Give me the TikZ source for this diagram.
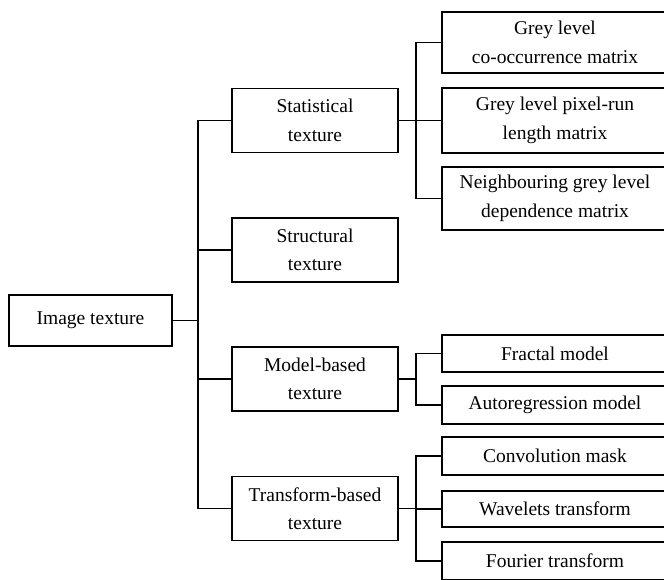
\documentclass[tikz,border=0pt]{standalone}
\usepackage{fontspec}
\setmainfont{Liberation Serif}
\usetikzlibrary{positioning}
\tikzset{
    box/.style={rectangle, draw, line width=1.5pt, inner sep=0pt, align=center,
                font=\fontsize{19.5}{28.5}\selectfont},
    mid/.style={box, minimum width=166pt, minimum height=64pt},
    leaf/.style={box, minimum width=226pt},
    link/.style={line width=1.5pt}
}

\begin{document}
\begin{tikzpicture}[x=1pt,y=-1pt]
\useasboundingbox (0,0) rectangle (664,579);
\clip (0,0) rectangle (664,579);
% root
\node[box, minimum width=163pt, minimum height=51pt] (img) at (90.5,320.5) {Image texture};
% first level
\node[mid] (stat)  at (315,120.5) {Statistical\\texture};
\node[mid] (struc) at (315,250)   {Structural\\texture};
\node[mid] (model) at (315,379)   {Model-based\\texture};
\node[mid] (trans) at (315,508.5) {Transform-based\\texture};
% second level
\node[leaf, minimum height=61pt] (glcm) at (555,42.5)  {Grey level\\co-occurrence matrix};
\node[leaf, minimum height=65pt] (glrl) at (555,120.5) {Grey level pixel-run\\length matrix};
\node[leaf, minimum height=63pt] (ngld) at (555,198.5) {Neighbouring grey level\\dependence matrix};
\node[leaf, minimum height=37pt] (frac) at (555,353.5) {Fractal model};
\node[leaf, minimum height=38pt] (auto) at (555,405)   {Autoregression model};
\node[leaf, minimum height=38pt] (conv) at (555,456)   {Convolution mask};
\node[leaf, minimum height=36pt] (wav)  at (555,509)   {Wavelets transform};
\node[leaf, minimum height=38pt] (four) at (555,561)   {Fourier transform};
% connectors
\foreach \n in {stat,struc,model,trans}
  \draw[link] (img.east) -- ++(25,0) |- (\n.west);
\foreach \n in {glcm,glrl,ngld}
  \draw[link] (stat.east) -- ++(17,0) |- (\n.west);
\foreach \n in {frac,auto}
  \draw[link] (model.east) -- ++(17,0) |- (\n.west);
\foreach \n in {conv,wav,four}
  \draw[link] (trans.east) -- ++(17,0) |- (\n.west);
\end{tikzpicture}
\end{document}
